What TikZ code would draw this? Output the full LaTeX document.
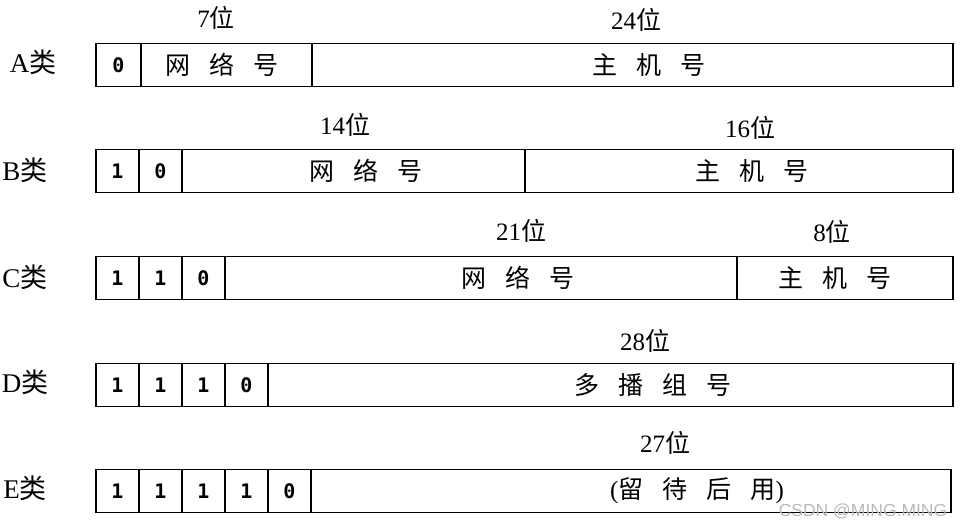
\documentclass[tikz,border=0pt]{standalone}
\usepackage{fontspec}
\setmainfont{Liberation Serif}
\newfontfamily\cjk{Noto Sans CJK SC}
\newfontfamily\bitfont{DejaVu Sans Mono}
\newfontfamily\markfont{Liberation Sans}
\newcommand{\wei}[1]{#1{\cjk 位}}
\newcommand{\lei}[1]{#1{\cjk 类}}
\newcommand{\chgap}{\hspace{19pt}}

\tikzset{
  cell/.style={draw, line width=1.6pt, outer sep=0pt, inner sep=0pt,
    minimum height=43pt, anchor=west},
  bit/.style={cell, minimum width=43pt,
    font=\bitfont\bfseries\fontsize{20}{20}\selectfont},
  fieldtext/.style={font=\cjk\fontsize{25}{25}\selectfont, inner sep=0pt},
  bitcount/.style={font=\fontsize{25}{25}\selectfont, inner sep=0pt},
  classname/.style={font=\fontsize{27}{27}\selectfont, inner sep=0pt},
  watermark/.style={font=\markfont\fontsize{17.5}{17.5}\selectfont,
    text=gray!55, inner sep=0pt},
}

\begin{document}
\begin{tikzpicture}[x=1pt, y=-1pt]
  \useasboundingbox (0,0) rectangle (965,530);

  % A class
  \node[classname] (acls) at (33,62) {\lei{A}};
  \node[bit, minimum width=45pt] (a1) at (96,65) {0};
  \node[cell, minimum width=171pt] (anet) at (a1.east) {};
  \node[cell, minimum width=641pt] (ahost) at (anet.east) {};
  \node[fieldtext] (anettext) at ([xshift=-5pt]anet.center) {网\chgap 络\chgap 号};
  \node[fieldtext] (ahosttext) at ([xshift=16pt]ahost.center) {主\chgap 机\chgap 号};
  \node[bitcount] (anetbits) at (216,18) {\wei{7}};
  \node[bitcount] (ahostbits) at (636,20) {\wei{24}};

  % B class
  \node[classname] (bcls) at (25,170) {\lei{B}};
  \node[bit] (b1) at (96,171) {1};
  \node[bit] (b2) at (b1.east) {0};
  \node[cell, minimum width=343pt] (bnet) at (b2.east) {};
  \node[cell, minimum width=428pt] (bhost) at (bnet.east) {};
  \node[fieldtext] (bnettext) at ([xshift=12pt]bnet.center) {网\chgap 络\chgap 号};
  \node[fieldtext] (bhosttext) at ([xshift=13pt]bhost.center) {主\chgap 机\chgap 号};
  \node[bitcount] (bnetbits) at (345,125) {\wei{14}};
  \node[bitcount] (bhostbits) at (750,128) {\wei{16}};

  % C class
  \node[classname] (ccls) at (25,277) {\lei{C}};
  \node[bit] (c1) at (96,278) {1};
  \node[bit] (c2) at (c1.east) {1};
  \node[bit] (c3) at (c2.east) {0};
  \node[cell, minimum width=512pt] (cnet) at (c3.east) {};
  \node[cell, minimum width=216pt] (chost) at (cnet.east) {};
  \node[fieldtext] (cnettext) at ([xshift=37pt]cnet.center) {网\chgap 络\chgap 号};
  \node[fieldtext] (chosttext) at ([xshift=-10pt]chost.center) {主\chgap 机\chgap 号};
  \node[bitcount] (cnetbits) at (521,231) {\wei{21}};
  \node[bitcount] (chostbits) at (832,232) {\wei{8}};

  % D class
  \node[classname] (dcls) at (25,382) {\lei{D}};
  \node[bit] (d1) at (96,385) {1};
  \node[bit] (d2) at (d1.east) {1};
  \node[bit] (d3) at (d2.east) {1};
  \node[bit] (d4) at (d3.east) {0};
  \node[cell, minimum width=685pt] (dgroup) at (d4.east) {};
  \node[fieldtext] (dgrouptext) at ([xshift=42pt]dgroup.center) {多\chgap 播\chgap 组\chgap 号};
  \node[bitcount] (dgroupbits) at (645,341) {\wei{28}};

  % E class
  \node[classname] (ecls) at (25,488) {\lei{E}};
  \node[bit] (e1) at (96,491) {1};
  \node[bit] (e2) at (e1.east) {1};
  \node[bit] (e3) at (e2.east) {1};
  \node[bit] (e4) at (e3.east) {1};
  \node[bit] (e5) at (e4.east) {0};
  \node[cell, minimum width=640pt] (erest) at (e5.east) {};
  \node[fieldtext] (eresttext) at ([xshift=66pt]erest.center)
    {{\rmfamily(}留\chgap 待\chgap 后\chgap 用{\rmfamily)}};
  \node[bitcount] (erestbits) at (665,443) {\wei{27}};

  \node[watermark] (wm) at (863,511) {CSDN @MING.MING};
\end{tikzpicture}
\end{document}
